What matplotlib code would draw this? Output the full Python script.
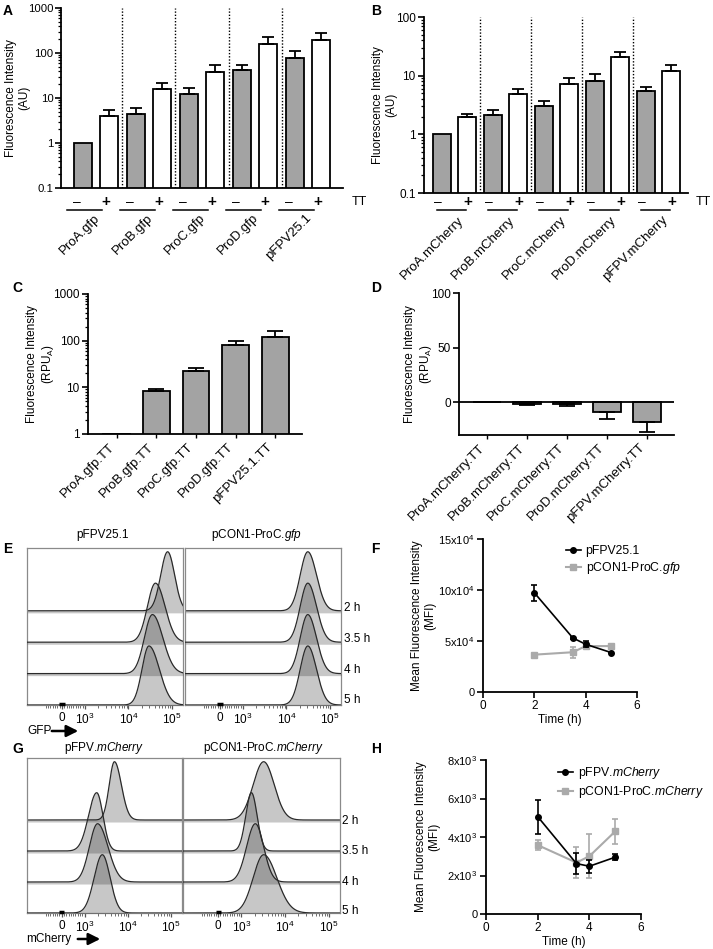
import numpy as np
import matplotlib
matplotlib.use('Agg')
import matplotlib.pyplot as plt
import matplotlib.transforms as mtrans
from matplotlib.ticker import LogLocator, NullFormatter, FixedLocator
from matplotlib.patches import FancyArrowPatch
from matplotlib.lines import Line2D

plt.rcParams['font.family'] = ['Liberation Sans', 'DejaVu Sans']
plt.rcParams['mathtext.fontset'] = 'custom'
plt.rcParams['mathtext.rm'] = 'Liberation Sans'
plt.rcParams['mathtext.it'] = 'Liberation Sans:italic'
plt.rcParams['mathtext.bf'] = 'Liberation Sans:bold'
plt.rcParams['font.size'] = 8.5

# ---------------- data ----------------
groups_A = ['ProA.gfp', 'ProB.gfp', 'ProC.gfp', 'ProD.gfp', 'pFPV25.1']
A_no_tt = [1.0, 4.5, 12.5, 41, 79]
A_no_tt_err = [0.0, 1.4, 4.5, 13, 31]
A_tt = [4.05, 15.8, 38, 161, 190]
A_tt_err = [1.45, 5.7, 15, 67, 88]

groups_B = ['ProA.mCherry', 'ProB.mCherry', 'ProC.mCherry', 'ProD.mCherry', 'pFPV.mCherry']
B_no_tt = [1.0, 2.1, 3.1, 8.2, 5.4]
B_no_tt_err = [0.0, 0.55, 0.6, 2.3, 1.0]
B_tt = [2.0, 4.8, 7.1, 21, 12]
B_tt_err = [0.25, 1.1, 1.9, 4.5, 3.0]

groups_C = ['ProA.gfp.TT', 'ProB.gfp.TT', 'ProC.gfp.TT', 'ProD.gfp.TT', 'pFPV25.1.TT']
C_vals = [1.0, 8.2, 21.9, 80, 122]
C_err = [0.0, 1.1, 3.9, 17.5, 43]

groups_D = ['ProA.mCherry.TT', 'ProB.mCherry.TT', 'ProC.mCherry.TT', 'ProD.mCherry.TT', 'pFPV.mCherry.TT']
D_vals = [0.6, -1.2, -1.8, -9.4, -18.2]
D_err = [0.0, 1.5, 1.2, 5.5, 9.2]

tt_signs = ['\u2013', '+']

time_labels = ['2 h', '3.5 h', '4 h', '5 h']
time_h = [2, 3.5, 4, 5]

# flow cytometry histogram peaks (log10 decade units) and spreads
E_pfpv_peak = [4.90, 4.62, 4.55, 4.47]
E_pfpv_sd_left = [0.16, 0.185, 0.185, 0.16]
E_pfpv_sd_right = [0.16, 0.22, 0.24, 0.24]
E_pcon_peak = [4.49, 4.49, 4.49, 4.49]
E_pcon_sd_left = [0.175, 0.175, 0.175, 0.175]
E_pcon_sd_right = [0.20, 0.20, 0.20, 0.20]

G_pfpv_peak = [3.69, 3.28, 3.30, 3.41]
G_pfpv_sd_left = [0.12, 0.19, 0.19, 0.19]
G_pfpv_sd_right = [0.16, 0.145, 0.24, 0.18]
G_pcon_peak = [3.51, 3.23, 3.32, 3.51]
G_pcon_sd_left = [0.24, 0.13, 0.20, 0.24]
G_pcon_sd_right = [0.24, 0.13, 0.19, 0.30]

F_pfpv = [97300, 53000, 46800, 38600]
F_pfpv_err = [8000, 800, 3000, 800]
F_pcon = [36600, 39000, 45000, 45000]
F_pcon_err = [800, 5500, 1800, 800]

H_pfpv = [5060, 2620, 2480, 2950]
H_pfpv_err = [880, 530, 330, 160]
H_pcon = [3580, 2670, 3000, 4290]
H_pcon_err = [240, 800, 1150, 650]

# ---------------- figure ----------------
W, H = 713, 949
fig = plt.figure(figsize=(W / 100, H / 100), dpi=100)
GRAY = '#a3a3a3'
LGRAY = '#aaaaaa'


def FX(px):
    return px / W


def FY(py):
    return 1 - py / H


def add_ax(l, t, r, b):
    return fig.add_axes([l / W, 1 - b / H, (r - l) / W, (b - t) / H])


def style(ax):
    for s in ['top', 'right']:
        ax.spines[s].set_visible(False)
    for s in ['left', 'bottom']:
        ax.spines[s].set_linewidth(1.3)
    ax.tick_params(axis='both', which='major', length=4, width=1.2, labelsize=8.5, pad=2)
    ax.tick_params(axis='both', which='minor', length=2.2, width=0.9)


def ylabel_at(ax, text, x_right_px):
    ax.set_ylabel(text, fontsize=8.5, linespacing=1.15)
    ax.yaxis.set_label_coords(FX(x_right_px), 0.5,
                              transform=mtrans.blended_transform_factory(fig.transFigure, ax.transAxes))


def panel_letter(x, y, s):
    fig.text(FX(x), FY(y), s, fontsize=10, fontweight='bold', ha='left', va='top')


def log_y(ax, lo, hi, ticks, labels):
    ax.set_yscale('log')
    ax.set_ylim(lo, hi)
    ax.yaxis.set_major_locator(FixedLocator(ticks))
    ax.set_yticklabels(labels)
    ax.yaxis.set_minor_locator(LogLocator(base=10, subs=np.arange(2, 10)))
    ax.yaxis.set_minor_formatter(NullFormatter())


def paired_bars(ax, minus, minus_err, plus, plus_err, pxu, labels,
                mdx, pdx, ll, lr, y_sign, y_line, y_lab, tt_x):
    n = len(minus)
    x = np.arange(n)
    bw, off = 0.35, 0.245
    ax.bar(x - off, minus, bw, color=GRAY, edgecolor='k', lw=1.3, zorder=2)
    ax.bar(x + off, plus, bw, color='white', edgecolor='k', lw=1.3, zorder=2)
    for xs, v, e in [(x - off, minus, minus_err), (x + off, plus, plus_err)]:
        for xi, vi, ei in zip(xs, v, e):
            if ei > 0:
                ax.errorbar([xi], [vi], yerr=[[0], [ei]], fmt='none', ecolor='k',
                            elinewidth=1.3, capsize=4.5, capthick=1.3, zorder=3)
    for i in range(n - 1):
        ax.axvline(i + 0.5, color='k', ls=(0, (1, 1.3)), lw=1.0, zorder=1)
    ax.set_xticks([])
    blend = mtrans.blended_transform_factory(ax.transData, fig.transFigure)
    for i in range(n):
        xm = i - off + mdx / pxu
        xp = i + off + pdx / pxu
        ax.text(xm, FY(y_sign), tt_signs[0], transform=blend, ha='center', va='center', fontsize=10)
        ax.text(xp, FY(y_sign), tt_signs[1], transform=blend, ha='center', va='center',
                fontsize=11, fontweight='bold')
        x0 = i - off + ll / pxu
        x1 = i + off + lr / pxu
        ax.plot([x0, x1], [FY(y_line), FY(y_line)], transform=blend, color='k', lw=1.1, clip_on=False)
        ax.text(x1, FY(y_lab), labels[i], transform=blend, ha='right', va='top', rotation=45, fontsize=9.5)
    fig.text(FX(tt_x), FY(y_sign), 'TT', ha='left', va='center', fontsize=9)


# ---------------- Panel A ----------------
axA = add_ax(61, 8, 343, 188)
style(axA)
paired_bars(axA, A_no_tt, A_no_tt_err, A_tt, A_tt_err, 53, groups_A,
            -6, -3, -16, -7, 202, 210, 212, 352)
log_y(axA, 0.1, 1000, [0.1, 1, 10, 100, 1000], ['0.1', '1', '10', '100', '1000'])
axA.set_xlim(-0.66, 4.66)
axA.tick_params(axis='y', which='major', labelsize=8.2, pad=1.5)
ylabel_at(axA, 'Fluorescence Intensity\n(AU)', 30)
panel_letter(3, 4, 'A')

# ---------------- Panel B ----------------
axB = add_ax(424, 17, 688, 193)
style(axB)
paired_bars(axB, B_no_tt, B_no_tt_err, B_tt, B_tt_err, 51, groups_B,
            -4, 1, -5, -1, 202, 210, 214, 696)
log_y(axB, 0.1, 100, [0.1, 1, 10, 100], ['0.1', '1', '10', '100'])
axB.set_xlim(-0.6, 4.58)
ylabel_at(axB, 'Fluorescence Intensity\n(AU)', 397)
panel_letter(371, 4, 'B')

# ---------------- Panel C ----------------
axC = add_ax(88, 294, 302, 434)
style(axC)
xc = np.arange(len(C_vals))
axC.bar(xc, C_vals, 0.68, color=GRAY, edgecolor='k', lw=1.3, zorder=2)
for xi, vi, ei in zip(xc, C_vals, C_err):
    if ei > 0:
        axC.errorbar([xi], [vi], yerr=[[0], [ei]], fmt='none', ecolor='k',
                     elinewidth=1.3, capsize=6, capthick=1.3, zorder=3)
log_y(axC, 1, 1000, [1, 10, 100, 1000], ['1', '10', '100', '1000'])
axC.set_xlim(-0.73, 4.68)
axC.set_xticks(xc)
axC.set_xticklabels(groups_C, rotation=45, ha='right', fontsize=9.5)
axC.tick_params(axis='x', length=3, width=1.0)
ylabel_at(axC, 'Fluorescence Intensity\n(RPU$_\\mathregular{A}$)', 56)
panel_letter(12, 281, 'C')

# ---------------- Panel D ----------------
axD = add_ax(459, 293, 674, 435)
style(axD)
xd = np.arange(len(D_vals))
axD.bar(xd, D_vals, 0.68, color=GRAY, edgecolor='k', lw=1.3, zorder=2)
for xi, vi, ei in zip(xd, D_vals, D_err):
    if ei > 0:
        axD.errorbar([xi], [vi], yerr=[[ei], [0]], fmt='none', ecolor='k',
                     elinewidth=1.3, capsize=6, capthick=1.3, zorder=3)
axD.axhline(0, color='k', lw=1.3, zorder=4)
axD.set_ylim(-30, 100)
axD.set_xlim(-0.7, 4.675)
axD.set_yticks([0, 50, 100])
axD.set_xticks(xd)
axD.set_xticklabels(groups_D, rotation=45, ha='right', fontsize=9.5)
axD.tick_params(axis='x', length=3, width=1.0)
ylabel_at(axD, 'Fluorescence Intensity\n(RPU$_\\mathregular{A}$)', 434)
panel_letter(371, 281, 'D')

# ---------------- Histograms E / G ----------------
XL, XR = 1.667, 5.253
ZERO_U = 2.47
PEAK_H = 1.88


def hist_axes(ax, peaks, sdl, sdr):
    u = np.linspace(XL, XR, 800)
    n = len(peaks)
    for i in range(n):
        base = n - 1 - i
        c, sl, sr = peaks[i], sdl[i], sdr[i]
        s = np.where(u < c, sl, sr)
        y = PEAK_H * np.exp(-0.5 * ((u - c) / s) ** 2)
        ax.fill_between(u, base - 0.065, base + y, color='#222222', alpha=0.25, lw=0, zorder=2 + i)
        ax.plot(u, base + y, color='#2a2a2a', lw=0.9, zorder=2 + i)
    ax.set_xlim(XL, XR)
    ax.set_ylim(0, 5)
    ax.set_yticks([])
    for s in ax.spines.values():
        s.set_color('#8a8a8a')
        s.set_linewidth(0.9)
    ax.set_xticks([ZERO_U, 3, 4, 5])
    ax.set_xticklabels(['0', '10$^3$', '10$^4$', '10$^5$'], fontsize=8.5)
    minor = [ZERO_U + (ZERO_U - 3) * k / 10 for k in range(1, 8)]
    minor += [ZERO_U + (3 - ZERO_U) * k / 10 for k in range(1, 10)]
    minor += [np.log10(k * 10 ** d) for d in (3, 4) for k in range(2, 10)]
    ax.set_xticks(minor, minor=True)
    ax.tick_params(axis='x', which='major', length=3, width=0.9, color='#555555', pad=2)
    ax.tick_params(axis='x', which='minor', length=2, width=0.6, color='#555555')
    ax.plot([ZERO_U - 0.06, ZERO_U + 0.06], [0.02, 0.02], color='k', lw=2.5,
            clip_on=False, zorder=20, solid_capstyle='butt')


axE1 = add_ax(27, 548, 183, 705)
hist_axes(axE1, E_pfpv_peak, E_pfpv_sd_left, E_pfpv_sd_right)
axE2 = add_ax(185, 548, 341, 705)
hist_axes(axE2, E_pcon_peak, E_pcon_sd_left, E_pcon_sd_right)
fig.text(FX(103), FY(535), 'pFPV25.1', ha='center', va='center', fontsize=8.5)
fig.text(FX(257), FY(535), 'pCON1-ProC.$\\mathit{gfp}$', ha='center', va='center', fontsize=8.5)
for lab, yy in zip(time_labels, [608, 639, 670, 700]):
    fig.text(FX(344), FY(yy), lab, ha='left', va='center', fontsize=8.5)
fig.text(FX(27), FY(731), 'GFP', ha='left', va='center', fontsize=8.5)
fig.add_artist(FancyArrowPatch((FX(49), FY(731)), (FX(81), FY(731)), transform=fig.transFigure,
                               arrowstyle='-|>,head_length=0.7,head_width=0.35', mutation_scale=10,
                               lw=1.8, color='k'))
panel_letter(3, 542, 'E')

axG1 = add_ax(27, 758, 182, 913)
hist_axes(axG1, G_pfpv_peak, G_pfpv_sd_left, G_pfpv_sd_right)
axG2 = add_ax(183, 758, 340, 913)
hist_axes(axG2, G_pcon_peak, G_pcon_sd_left, G_pcon_sd_right)
fig.text(FX(104), FY(748), 'pFPV.$\\mathit{mCherry}$', ha='center', va='center', fontsize=8.5)
fig.text(FX(263), FY(748), 'pCON1-ProC.$\\mathit{mCherry}$', ha='center', va='center', fontsize=8.5)
for lab, yy in zip(time_labels, [821, 851, 882, 911]):
    fig.text(FX(342), FY(yy), lab, ha='left', va='center', fontsize=8.5)
fig.text(FX(26), FY(939), 'mCherry', ha='left', va='center', fontsize=8.5)
fig.add_artist(FancyArrowPatch((FX(75), FY(939)), (FX(103), FY(939)), transform=fig.transFigure,
                               arrowstyle='-|>,head_length=0.7,head_width=0.35', mutation_scale=10,
                               lw=1.8, color='k'))
panel_letter(12, 742, 'G')

# ---------------- Panel F ----------------
axF = add_ax(483, 539, 637, 692)
style(axF)
axF.errorbar(time_h, F_pcon, yerr=F_pcon_err, color=LGRAY, marker='s', ms=4, lw=1.5,
             elinewidth=1.2, capsize=2.5, capthick=1.2, zorder=3)
axF.errorbar(time_h, F_pfpv, yerr=F_pfpv_err, color='k', marker='o', ms=4, lw=1.2,
             elinewidth=1.2, capsize=2.5, capthick=1.2, zorder=4)
axF.set_xlim(0, 6)
axF.set_ylim(0, 150000)
axF.set_xticks([0, 2, 4, 6])
axF.set_yticks([0, 50000, 100000, 150000])
axF.set_yticklabels(['0', '5x10$^4$', '10x10$^4$', '15x10$^4$'], fontsize=8)
axF.set_xlabel('Time (h)', fontsize=8.5, labelpad=1)
ylabel_at(axF, 'Mean Fluorescence Intensity\n(MFI)', 436)
hF = [Line2D([], [], color='k', marker='o', ms=4, lw=1.2),
      Line2D([], [], color=LGRAY, marker='s', ms=4, lw=1.5)]
fig.legend(hF, ['pFPV25.1', 'pCON1-ProC.$\\mathit{gfp}$'], loc='upper left',
           bbox_to_anchor=(FX(566), FY(545)), bbox_transform=fig.transFigure, frameon=False,
           fontsize=8.8, handlelength=1.2, handletextpad=0.4, labelspacing=0.25, borderpad=0,
           borderaxespad=0)
panel_letter(371, 542, 'F')

# ---------------- Panel H ----------------
axH = add_ax(486, 760, 641, 914)
style(axH)
axH.errorbar(time_h, H_pcon, yerr=H_pcon_err, color=LGRAY, marker='s', ms=4, lw=1.5,
             elinewidth=1.2, capsize=2.5, capthick=1.2, zorder=3)
axH.errorbar(time_h, H_pfpv, yerr=H_pfpv_err, color='k', marker='o', ms=4, lw=1.2,
             elinewidth=1.2, capsize=2.5, capthick=1.2, zorder=4)
axH.set_xlim(0, 6)
axH.set_ylim(0, 8000)
axH.set_xticks([0, 2, 4, 6])
axH.set_yticks([0, 2000, 4000, 6000, 8000])
axH.set_yticklabels(['0', '2x10$^3$', '4x10$^3$', '6x10$^3$', '8x10$^3$'], fontsize=8)
axH.set_xlabel('Time (h)', fontsize=8.5, labelpad=1)
ylabel_at(axH, 'Mean Fluorescence Intensity\n(MFI)', 440)
hH = [Line2D([], [], color='k', marker='o', ms=4, lw=1.2),
      Line2D([], [], color=LGRAY, marker='s', ms=4, lw=1.5)]
fig.legend(hH, ['pFPV.$\\mathit{mCherry}$', 'pCON1-ProC.$\\mathit{mCherry}$'], loc='upper left',
           bbox_to_anchor=(FX(558), FY(765)), bbox_transform=fig.transFigure, frameon=False,
           fontsize=8.8, handlelength=1.2, handletextpad=0.4, labelspacing=0.25, borderpad=0,
           borderaxespad=0)
panel_letter(371, 742, 'H')

fig.savefig('out.png', dpi=100)
